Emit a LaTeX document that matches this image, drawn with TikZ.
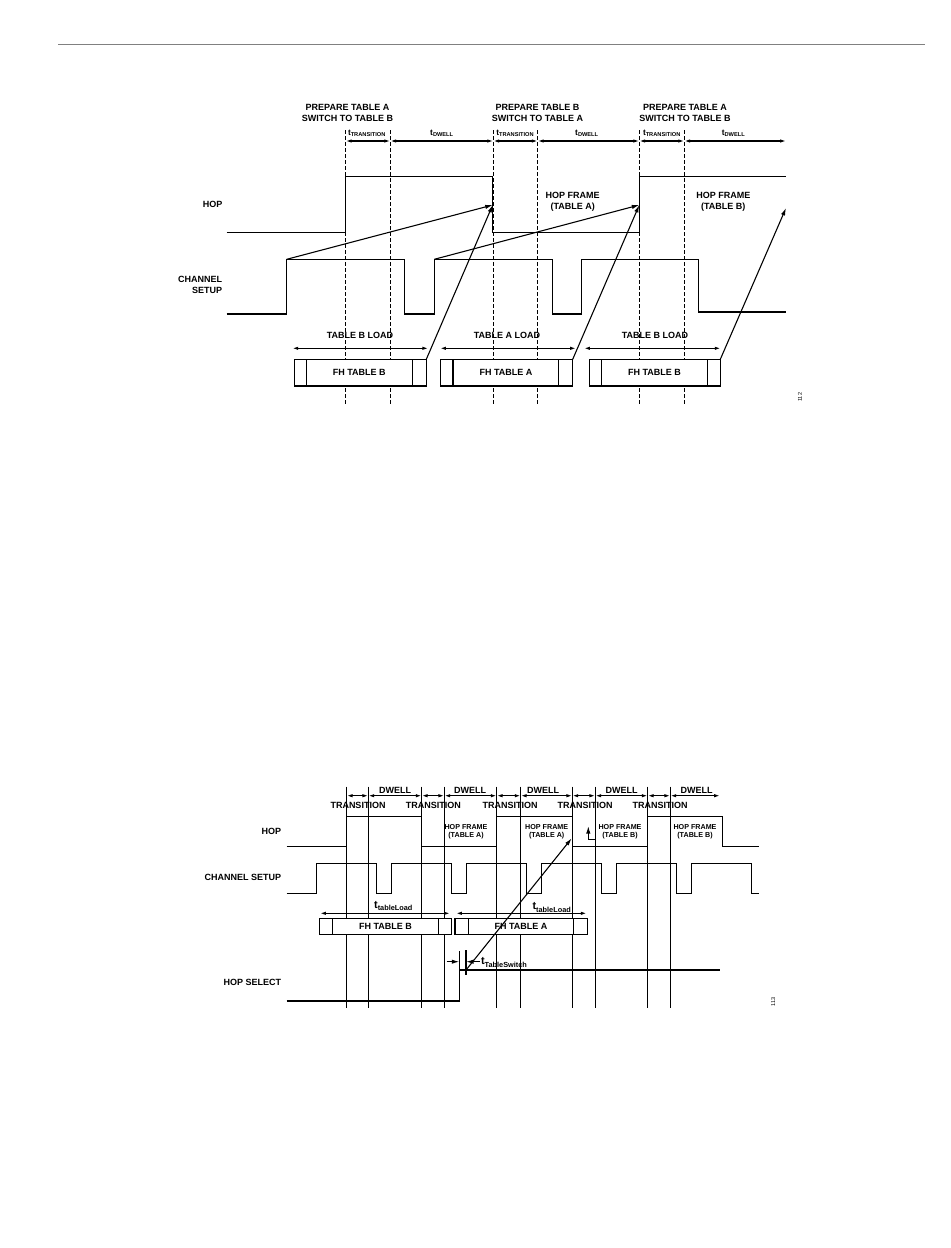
\documentclass[tikz,border=0pt]{standalone}
\usepackage{fontspec}
\setmainfont{Liberation Sans}
\usepackage{tikz}
\usetikzlibrary{arrows.meta,positioning,calc}

\newcommand{\tlab}[1]{t\raisebox{-0.6pt}{\fontsize{3.4}{4}\selectfont #1}}
\newcommand{\tlabB}[1]{{\fontsize{6.5}{7}\selectfont t}\raisebox{-1.3pt}{\fontsize{4.4}{5}\selectfont #1}}

\begin{document}
\begin{tikzpicture}[x=0.6pt, y=-0.6pt, line width=0.65pt,
    lbl/.style={font=\bfseries\fontsize{5.4}{6.6}\selectfont, inner sep=0pt, align=center},
    sml/.style={font=\bfseries\fontsize{4.3}{4.8}\selectfont, inner sep=0pt, align=center},
    tlb/.style={font=\bfseries\fontsize{5}{6}\selectfont, inner sep=0pt},
    guide/.style={dash pattern=on 2.4pt off 1.2pt},
    dim/.style={{Latex[length=3.5pt,width=2pt]}-{Latex[length=3.5pt,width=2pt]}},
    ptr/.style={-{Latex[length=4.5pt,width=2.6pt]}},
    tbl/.style={fill=white},
    tag/.style={font=\fontsize{3.3}{4}\selectfont, inner sep=0pt, rotate=90}]
    \useasboundingbox (0,0) rectangle (950,1248);

    % page rule
    \draw[gray, line width=0.6pt] (58,44) -- (925,44);

    %%%%%%%%%%%%%%%% upper diagram
    \node[lbl] (prep1) at (347.5,112.5) {PREPARE TABLE A\\SWITCH TO TABLE B};
    \node[lbl] (prep2) at (537.5,112.5) {PREPARE TABLE B\\SWITCH TO TABLE A};
    \node[lbl] (prep3) at (685,112.5) {PREPARE TABLE A\\SWITCH TO TABLE B};

    % dashed guides
    \foreach \x in {345.7,390.3,493.3,537.7,639.3,684.3}
        \draw[guide] (\x,130) -- (\x,405);

    % interval arrows
    \foreach \a/\b in {345.7/390.3,390.3/493.3,493.3/537.7,537.7/639.3,639.3/684.3,684.3/786}
        \draw[dim] (\a,141) -- (\b,141);
    \node[tlb] (trans1) at (366.7,133.3) {\tlab{TRANSITION}};
    \node[tlb] (dwell1) at (441.7,133.3) {\tlab{DWELL}};
    \node[tlb] (trans2) at (515,133.3) {\tlab{TRANSITION}};
    \node[tlb] (dwell2) at (586.7,133.3) {\tlab{DWELL}};
    \node[tlb] (trans3) at (661.7,133.3) {\tlab{TRANSITION}};
    \node[tlb] (dwell3) at (733.3,133.3) {\tlab{DWELL}};

    % signal names
    \node[lbl, anchor=east] (hop) at (223,204) {HOP};
    \node[lbl, anchor=east, align=right] (chan) at (222.7,285.3) {CHANNEL\\SETUP};

    % HOP
    \draw (226.7,232.7) -- (345.7,232.7) -- (345.7,176.7) -- (492.7,176.7) -- (492.7,232.7)
        -- (639.3,232.7) -- (639.3,176.7) -- (786,176.7);
    \node[lbl, align=center] (frameA) at (572.7,201.3) {HOP FRAME\\(TABLE A)};
    \node[lbl, align=center] (frameB) at (723.3,201.3) {HOP FRAME\\(TABLE B)};

    % CHANNEL SETUP
    \draw (226.7,314) -- (286.7,314) -- (286.7,259.3) -- (404.3,259.3) -- (404.3,314)
        -- (434.3,314) -- (434.3,259.3) -- (552.7,259.3) -- (552.7,314) -- (581.3,314)
        -- (581.3,259.3) -- (698.3,259.3) -- (698.3,312) -- (786,312);

    % table loads
    \draw[dim] (292.3,348.3) -- (428.3,348.3);
    \draw[dim] (440,348.3) -- (576,348.3);
    \draw[dim] (584,348.3) -- (720.7,348.3);
    \node[lbl] (loadB1) at (360,335.7) {TABLE B LOAD};
    \node[lbl] (loadA) at (507,335.7) {TABLE A LOAD};
    \node[lbl] (loadB2) at (655,335.7) {TABLE B LOAD};

    % FH tables
    \draw[tbl] (294.3,359.3) rectangle (426.3,386);
    \draw (306.3,359.3) -- (306.3,386) (412.3,359.3) -- (412.3,386);
    \node[lbl] (fhB1) at (359.3,372.7) {FH TABLE B};
    \draw[tbl] (440.3,359.3) rectangle (572.7,386);
    \draw (453,359.3) -- (453,386) (558.7,359.3) -- (558.7,386);
    \node[lbl] (fhA) at (506,372.7) {FH TABLE A};
    \draw[tbl] (589.3,359.3) rectangle (720.3,386);
    \draw (601.3,359.3) -- (601.3,386) (707.7,359.3) -- (707.7,386);
    \node[lbl] (fhB2) at (654.5,372.7) {FH TABLE B};

    % cause arrows
    \draw[ptr] (286.7,259.3) -- (492.7,205);
    \draw[ptr] (426.3,359.3) -- (492.7,205);
    \draw[ptr] (434.3,259.3) -- (639.3,205);
    \draw[ptr] (572.7,359.3) -- (639.3,205);
    \draw[ptr] (720.3,359.3) -- (786,208);

    \node[tag] (fig1) at (800,397.3) {112};

    %%%%%%%%%%%%%%%% lower diagram
    \foreach \x in {346.7,368.3,421.7,444.3,496.7,520.7,572.3,595.3,647.7,670.3}
        \draw (\x,786.7) -- (\x,1008.3);

    \foreach \a/\b in {346.7/368.3,368.3/421.7,421.7/444.3,444.3/496.7,496.7/520.7,
                       520.7/572.3,572.3/595.3,595.3/647.7,647.7/670.3,670.3/720}
        \draw[dim] (\a,795.7) -- (\b,795.7);
    \node[lbl] (dw1) at (395,790) {DWELL};
    \node[lbl] (dw2) at (470,790) {DWELL};
    \node[lbl] (dw3) at (543,790) {DWELL};
    \node[lbl] (dw4) at (621.7,790) {DWELL};
    \node[lbl] (dw5) at (696.7,790) {DWELL};
    \node[lbl] (tr1) at (358,805.7) {TRANSITION};
    \node[lbl] (tr2) at (433.3,805.7) {TRANSITION};
    \node[lbl] (tr3) at (510,805.7) {TRANSITION};
    \node[lbl] (tr4) at (585,805.7) {TRANSITION};
    \node[lbl] (tr5) at (660,805.7) {TRANSITION};

    % signal names
    \node[lbl, anchor=east] (hop2) at (281.7,831) {HOP};
    \node[lbl, anchor=east] (chan2) at (281.7,877.7) {CHANNEL SETUP};
    \node[lbl, anchor=east] (sel) at (281.7,982.3) {HOP SELECT};

    % HOP
    \draw (286.7,846.7) -- (346.7,846.7) -- (346.7,816.7) -- (421.7,816.7) -- (421.7,846.7)
        -- (496.7,846.7) -- (496.7,816.7) -- (572.3,816.7) -- (572.3,846.7) -- (647.7,846.7)
        -- (647.7,816.7) -- (722.3,816.7) -- (722.3,846.7) -- (759.3,846.7);
    \node[sml] (hf1) at (466,831.7) {HOP FRAME\\(TABLE A)};
    \node[sml] (hf2) at (546.7,831.7) {HOP FRAME\\(TABLE A)};
    \node[sml] (hf3) at (620,831.7) {HOP FRAME\\(TABLE B)};
    \node[sml] (hf4) at (695,831.7) {HOP FRAME\\(TABLE B)};
    \draw[ptr] (595.3,839.3) -- (588.3,839.3) -- (588.3,826);

    % CHANNEL SETUP
    \draw (286.7,893.3) \foreach \k in {0,...,5} {
        -- ({316.7+75*\k},893.3) -- ({316.7+75*\k},863.3) -- ({376.7+75*\k},863.3)
        -- ({376.7+75*\k},893.3) } -- (759.3,893.3);

    % table loads
    \draw[dim] (320,913.3) -- (450,913.3);
    \draw[dim] (456,913.3) -- (586.7,913.3);
    \node[tlb] (tl1) at (393.3,906) {\tlabB{tableLoad}};
    \node[tlb] (tl2) at (551.7,907.5) {\tlabB{tableLoad}};

    \draw[tbl] (319.3,918.3) rectangle (451.7,934.3);
    \draw (332.7,918.3) -- (332.7,934.3) (438.3,918.3) -- (438.3,934.3);
    \node[lbl] (fhB3) at (385.5,926.3) {FH TABLE B};
    \draw[tbl] (455,918.3) rectangle (587.3,934.3);
    \draw (468.3,918.3) -- (468.3,934.3) (573.3,918.3) -- (573.3,934.3);
    \node[lbl] (fhA2) at (521,926.3) {FH TABLE A};

    % HOP SELECT
    \draw (286.7,1001) -- (459.3,1001) -- (459.3,970) -- (720,970);
    \draw (459.3,970) -- (459.3,951);
    \draw (466,950) -- (466,975);
    \draw[ptr] (446.7,961.7) -- (459.3,961.7);
    \draw[ptr] (480,961.7) -- (466,961.7);
    \node[tlb, anchor=west] (tsw) at (480.5,962.5) {\tlabB{TableSwitch}};

    \draw[ptr] (466,970) -- (571.7,838.3);

    \node[tag] (fig2) at (773.3,1001.7) {113};
\end{tikzpicture}
\end{document}
